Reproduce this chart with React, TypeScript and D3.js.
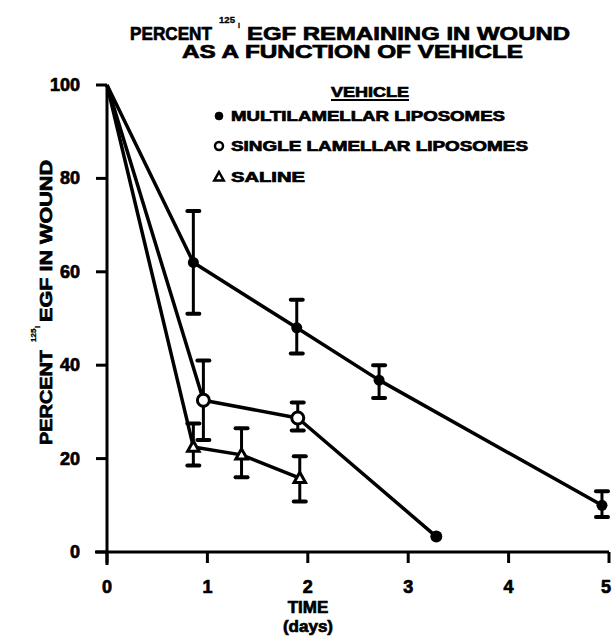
import React from "react";
import * as d3 from "d3";

const xTicks = [0, 1, 2, 3, 4, 5];
const yTicks = [0, 20, 40, 60, 80, 100];

const multiX = [0, 0.86, 1.89, 2.71, 4.93];
const multiY = [100, 62, 48, 36.8, 10];
const multiLo = [null, 51, 42.5, 33, 7.5];
const multiHi = [null, 73, 54, 40, 13];

const singleX = [0, 0.96, 1.9, 3.28];
const singleY = [100, 32.5, 28.7, 3.3];
const singleLo = [null, 24, 26, null];
const singleHi = [null, 41, 32, null];

const salineX = [0, 0.86, 1.34, 1.92];
const salineY = [100, 22.5, 20.8, 15.8];
const salineLo = [null, 18.5, 16, 10.8];
const salineHi = [null, 27.5, 26.5, 20.5];

const legendLabels = ["MULTILAMELLAR LIPOSOMES", "SINGLE LAMELLAR LIPOSOMES", "SALINE"];

const FONT = "'Liberation Sans', Arial, sans-serif";

export default function App() {
  const x = d3.scaleLinear().domain([0, 5]).range([107, 609]);
  const y = d3.scaleLinear().domain([0, 100]).range([552, 85]);
  const line = d3.line<number>();

  const mk = (xs: number[], ys: number[]) => xs.map((v, i) => [x(v), y(ys[i])] as [number, number]);

  const errBars = (xs: number[], lo: (number | null)[], hi: (number | null)[], key: string) =>
    xs.map((v, i) => {
      if (lo[i] == null || hi[i] == null) return null;
      const cx = x(v);
      const y1 = y(lo[i] as number);
      const y2 = y(hi[i] as number);
      return (
        <g key={key + i} stroke="#000" strokeWidth={3}>
          <line x1={cx} x2={cx} y1={y1} y2={y2} />
          <line x1={cx - 6} x2={cx + 6} y1={y1} y2={y1} strokeWidth={4} strokeLinecap="round" />
          <line x1={cx - 6} x2={cx + 6} y1={y2} y2={y2} strokeWidth={4} strokeLinecap="round" />
        </g>
      );
    });

  const tri = (cx: number, cy: number, s: number) =>
    `M${cx},${cy - s}L${cx + s * 0.95},${cy + s * 0.7}L${cx - s * 0.95},${cy + s * 0.7}Z`;

  const heavy = { stroke: "#000", strokeWidth: 0.7 };

  return (
    <svg width={612} height={640} style={{ display: "block", position: "absolute", left: 0, top: 0 }}>
      <rect width={612} height={640} fill="#fff" />
      {/* Title */}
      <g fontFamily={FONT} fontWeight="bold" fill="#000" {...heavy}>
        <text x={130} y={40} fontSize={19} textLength={82} lengthAdjust="spacingAndGlyphs">PERCENT</text>
        <text x={219} y={23} fontSize={9} textLength={16} lengthAdjust="spacingAndGlyphs" strokeWidth={0.3}>125</text>
        <text x={238} y={28} fontSize={7} strokeWidth={0.3}>I</text>
        <text x={247} y={40} fontSize={19} textLength={323} lengthAdjust="spacingAndGlyphs">EGF REMAINING IN WOUND</text>
        <text x={182} y={58} fontSize={18} textLength={341} lengthAdjust="spacingAndGlyphs">AS A FUNCTION OF VEHICLE</text>
      </g>

      {/* Axes */}
      <g stroke="#000" strokeWidth={3} fill="none">
        <line x1={x(0)} x2={x(0)} y1={y(100)} y2={565} />
        <line x1={95} x2={x(5)} y1={y(0)} y2={y(0)} />
        {yTicks.map((t) => (
          <line key={"yt" + t} x1={x(0) - 11} x2={x(0)} y1={y(t)} y2={y(t)} />
        ))}
        {xTicks.map((t) => (
          <line key={"xt" + t} x1={x(t)} x2={x(t)} y1={y(0)} y2={y(0) + 11} />
        ))}
      </g>
      <g fontFamily={FONT} fontWeight="bold" fontSize={18} fill="#000" {...heavy}>
        {yTicks.map((t) => (
          <text key={"yl" + t} x={80} y={y(t) + 6} textAnchor="end">{t}</text>
        ))}
        {xTicks.map((t) => (
          <text key={"xl" + t} x={t === 5 ? x(t) - 3 : x(t)} y={593} textAnchor="middle">{t}</text>
        ))}
        <text x={308} y={613} textAnchor="middle" fontSize={17}>TIME</text>
        <text x={308} y={632} textAnchor="middle" fontSize={17}>(days)</text>
      </g>

      {/* Y label */}
      <g transform="translate(52,300) rotate(-90)" fontFamily={FONT} fontWeight="bold" fill="#000" {...heavy}>
        <text x={-145} y={0} fontSize={17} textLength={95} lengthAdjust="spacingAndGlyphs">PERCENT</text>
        <text x={-42} y={-16} fontSize={8} strokeWidth={0.3}>125</text>
        <text x={-28} y={-12} fontSize={7} strokeWidth={0.3}>I</text>
        <text x={-22} y={0} fontSize={17} textLength={162} lengthAdjust="spacingAndGlyphs">EGF IN WOUND</text>
      </g>

      {/* Legend */}
      <g fontFamily={FONT} fontWeight="bold" fontSize={14} fill="#000" {...heavy}>
        <text x={370} y={97} textAnchor="middle" textLength={78} lengthAdjust="spacingAndGlyphs">VEHICLE</text>
        <line x1={331} x2={409} y1={100} y2={100} stroke="#000" strokeWidth={2} />
        <circle cx={219} cy={116} r={4} fill="#000" />
        <text x={231} y={121} textLength={274} lengthAdjust="spacingAndGlyphs">{legendLabels[0]}</text>
        <circle cx={219} cy={146} r={4} fill="#fff" stroke="#000" strokeWidth={2.5} />
        <text x={231} y={151} textLength={297} lengthAdjust="spacingAndGlyphs">{legendLabels[1]}</text>
        <path d={tri(219, 177, 5)} fill="#fff" stroke="#000" strokeWidth={2.5} />
        <text x={231} y={182} textLength={74} lengthAdjust="spacingAndGlyphs">{legendLabels[2]}</text>
      </g>

      {/* Lines */}
      <g fill="none" stroke="#000" strokeWidth={3.5} strokeLinejoin="round">
        <path d={line(mk(multiX, multiY)) || ""} />
        <path d={line(mk(singleX, singleY)) || ""} />
        <path d={line(mk(salineX, salineY)) || ""} />
      </g>

      {/* Error bars */}
      {errBars(multiX, multiLo, multiHi, "m")}
      {errBars(singleX, singleLo, singleHi, "s")}
      {errBars(salineX, salineLo, salineHi, "a")}

      {/* Markers */}
      {multiX.slice(1).map((v, i) => (
        <circle key={"mm" + i} cx={x(v)} cy={y(multiY[i + 1])} r={5.5} fill="#000" />
      ))}
      {singleX.slice(1).map((v, i) =>
        i + 1 === singleX.length - 1 ? (
          <circle key={"sm" + i} cx={x(v)} cy={y(singleY[i + 1])} r={6} fill="#000" />
        ) : (
          <circle key={"sm" + i} cx={x(v)} cy={y(singleY[i + 1])} r={6} fill="#fff" stroke="#000" strokeWidth={3} />
        )
      )}
      {salineX.slice(1).map((v, i) => (
        <path key={"am" + i} d={tri(x(v), y(salineY[i + 1]), 6)} fill="#fff" stroke="#000" strokeWidth={3} />
      ))}
    </svg>
  );
}
